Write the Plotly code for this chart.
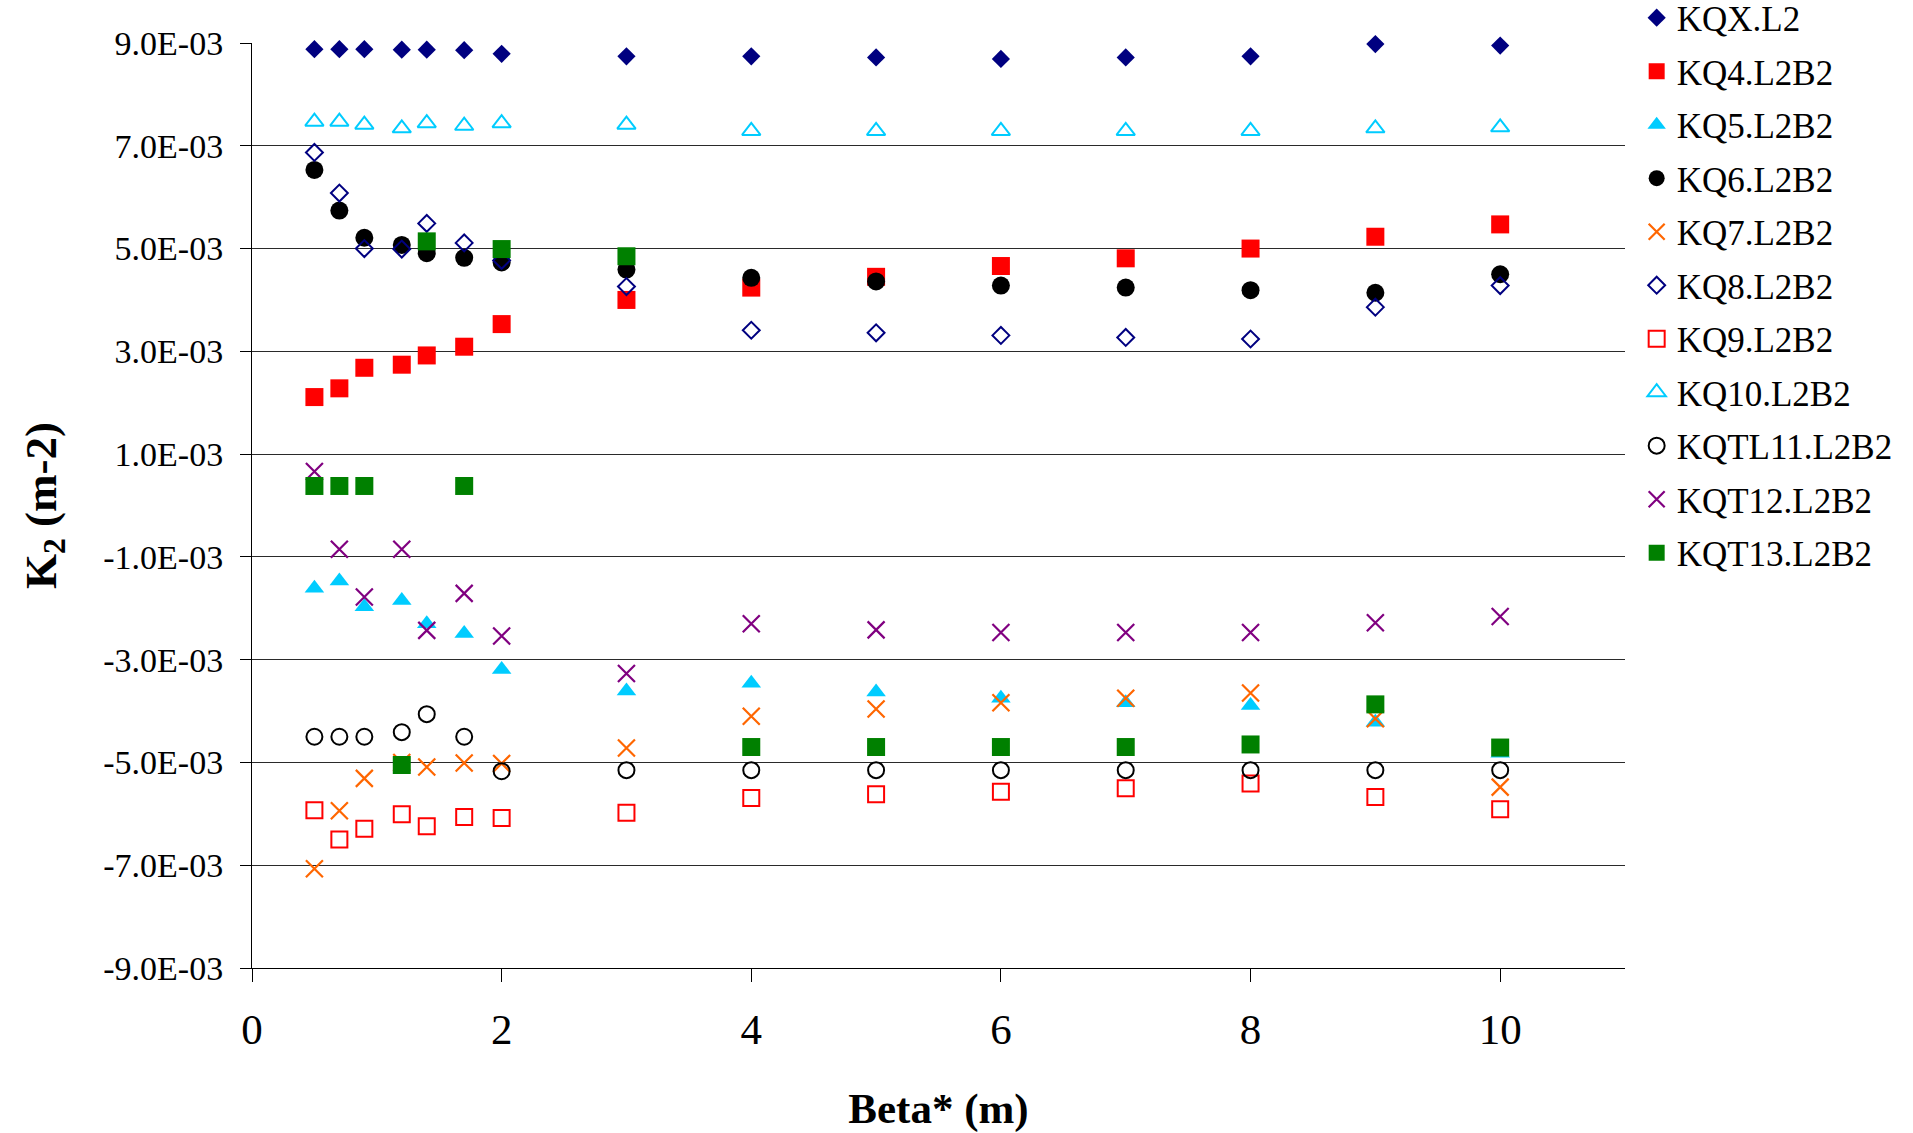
import plotly.graph_objects as go

beta = [0.5, 0.7, 0.9, 1.2, 1.4, 1.7, 2, 3, 4, 5, 6, 7, 8, 9, 10]

kqx_l2 = [0.00888, 0.00888, 0.00888, 0.00887, 0.00887, 0.00886, 0.00879, 0.00874,
          0.00874, 0.00872, 0.00869, 0.00872, 0.00874, 0.00898, 0.00895]
kq4 = [0.00211, 0.00228, 0.00268, 0.00274, 0.00292, 0.00309, 0.00353, 0.00400,
       0.00424, 0.00445, 0.00466, 0.00481, 0.00500, 0.00523, 0.00547]
kq5 = [-0.00161, -0.00147, -0.00197, -0.00185, -0.00230, -0.00249, -0.00319, -0.00361,
       -0.00346, -0.00363, -0.00375, -0.00384, -0.00389, -0.00422, -0.00482]
kq6 = [0.00653, 0.00574, 0.00521, 0.00507, 0.00491, 0.00482, 0.00473, 0.00459,
       0.00443, 0.00436, 0.00428, 0.00424, 0.00419, 0.00414, 0.00450]
kq7 = [-0.00707, -0.00594, -0.00531, -0.00500, -0.00509, -0.00501, -0.00502, -0.00472,
       -0.00410, -0.00396, -0.00384, -0.00375, -0.00365, -0.00415, -0.00548]
kq8 = [0.00687, 0.00608, 0.00500, 0.00499, 0.00549, 0.00511, 0.00477, 0.00426,
       0.00341, 0.00336, 0.00331, 0.00327, 0.00324, 0.00386, 0.00428]
kq9 = [-0.00593, -0.00650, -0.00629, -0.00601, -0.00624, -0.00606, -0.00608, -0.00598,
       -0.00569, -0.00562, -0.00557, -0.00550, -0.00541, -0.00567, -0.00591]
kq10 = [0.00747, 0.00747, 0.00741, 0.00734, 0.00744, 0.00739, 0.00744, 0.00741,
        0.00729, 0.00729, 0.00729, 0.00729, 0.00729, 0.00734, 0.00736]
kqtl11 = [-0.00450, -0.00450, -0.00450, -0.00441, -0.00406, -0.00450, -0.00517, -0.00515,
          -0.00515, -0.00515, -0.00515, -0.00515, -0.00515, -0.00515, -0.00515]
kqt12 = [0.00066, -0.00085, -0.00178, -0.00085, -0.00243, -0.00171, -0.00254, -0.00327,
         -0.00230, -0.00242, -0.00247, -0.00247, -0.00247, -0.00228, -0.00216]
kqt13 = [0.00038, 0.00038, 0.00038, -0.00505, 0.00514, 0.00038, 0.00499, 0.00485,
         -0.00470, -0.00470, -0.00470, -0.00470, -0.00465, -0.00387, -0.00471]

series_names = ["KQX.L2", "KQ4.L2B2", "KQ5.L2B2", "KQ6.L2B2", "KQ7.L2B2", "KQ8.L2B2",
                "KQ9.L2B2", "KQ10.L2B2", "KQTL11.L2B2", "KQT12.L2B2", "KQT13.L2B2"]
series_values = [kqx_l2, kq4, kq5, kq6, kq7, kq8, kq9, kq10, kqtl11, kqt12, kqt13]

y_tickvals = [-0.009, -0.007, -0.005, -0.003, -0.001, 0.001, 0.003, 0.005, 0.007, 0.009]
y_ticktext = [f"{v:.1E}" for v in y_tickvals]
x_tickvals = [0, 2, 4, 6, 8, 10]

styles = [
    dict(symbol="diamond", size=14, color="#000080", line=dict(width=0)),
    dict(symbol="square", size=18, color="#FF0000", line=dict(width=0)),
    dict(symbol="triangle-up", size=17, color="#00CCFF", line=dict(width=0)),
    dict(symbol="circle", size=18, color="#000000", line=dict(width=0)),
    dict(symbol="x-thin", size=17, color="#FF6600", line=dict(width=2.2, color="#FF6600")),
    dict(symbol="diamond-open", size=13, color="#000080", line=dict(width=2, color="#000080")),
    dict(symbol="square-open", size=16, color="#FF0000", line=dict(width=2, color="#FF0000")),
    dict(symbol="triangle-up-open", size=16, color="#00CCFF", line=dict(width=2, color="#00CCFF")),
    dict(symbol="circle-open", size=16, color="#000000", line=dict(width=2, color="#000000")),
    dict(symbol="x-thin", size=17, color="#800080", line=dict(width=2.2, color="#800080")),
    dict(symbol="square", size=18, color="#008000", line=dict(width=0)),
]

FONT = "Liberation Serif, Times New Roman, serif"

fig = go.Figure()
for name, vals, st in zip(series_names, series_values, styles):
    fig.add_trace(go.Scatter(x=beta, y=vals, mode="markers", name=name,
                             legendgroup=name, marker=st, cliponaxis=False))

fig.update_layout(
    width=1913, height=1133,
    margin=dict(l=252, r=288, t=43, b=165, autoexpand=False),
    plot_bgcolor="white", paper_bgcolor="white",
    font=dict(family=FONT, color="black"),
    showlegend=True,
    legend=dict(x=1.0085, y=1.059, xanchor="left", yanchor="top", maxheight=1.0,
                font=dict(family=FONT, size=35, color="black"),
                tracegroupgap=5, bgcolor="rgba(0,0,0,0)", itemwidth=30),
    xaxis=dict(range=[0, 11], tickvals=x_tickvals, ticks="outside", ticklen=13,
               tickwidth=1, tickcolor="black", showgrid=False, zeroline=False,
               showline=True, linecolor="black", linewidth=1,
               tickfont=dict(family=FONT, size=43, color="black"),
               ticklabelstandoff=10,
               title=dict(text="<b>Beta* (m)</b>", standoff=42,
                          font=dict(family=FONT, size=43, color="black"))),
    xaxis2=dict(range=[0, 11], dtick=1, tick0=0, ticks="inside", ticklen=9,
                tickwidth=1, tickcolor="black", showticklabels=False, showgrid=False,
                zeroline=False, showline=False, overlaying="x", anchor="y", side="bottom"),
    yaxis=dict(range=[-0.009, 0.009], tickvals=y_tickvals, ticktext=y_ticktext,
               ticks="outside", ticklen=11, tickwidth=1, tickcolor="black",
               showgrid=True, gridcolor="#2a2a2a", gridwidth=1, zeroline=False,
               showline=True, linecolor="black", linewidth=1,
               tickfont=dict(family=FONT, size=34, color="black"),
               ticklabelstandoff=10,
               title=dict(text="<b>K<sub>2</sub> (m-2)</b>", standoff=32,
                          font=dict(family=FONT, size=45, color="black"))),
)

fig.write_html("out.html")
